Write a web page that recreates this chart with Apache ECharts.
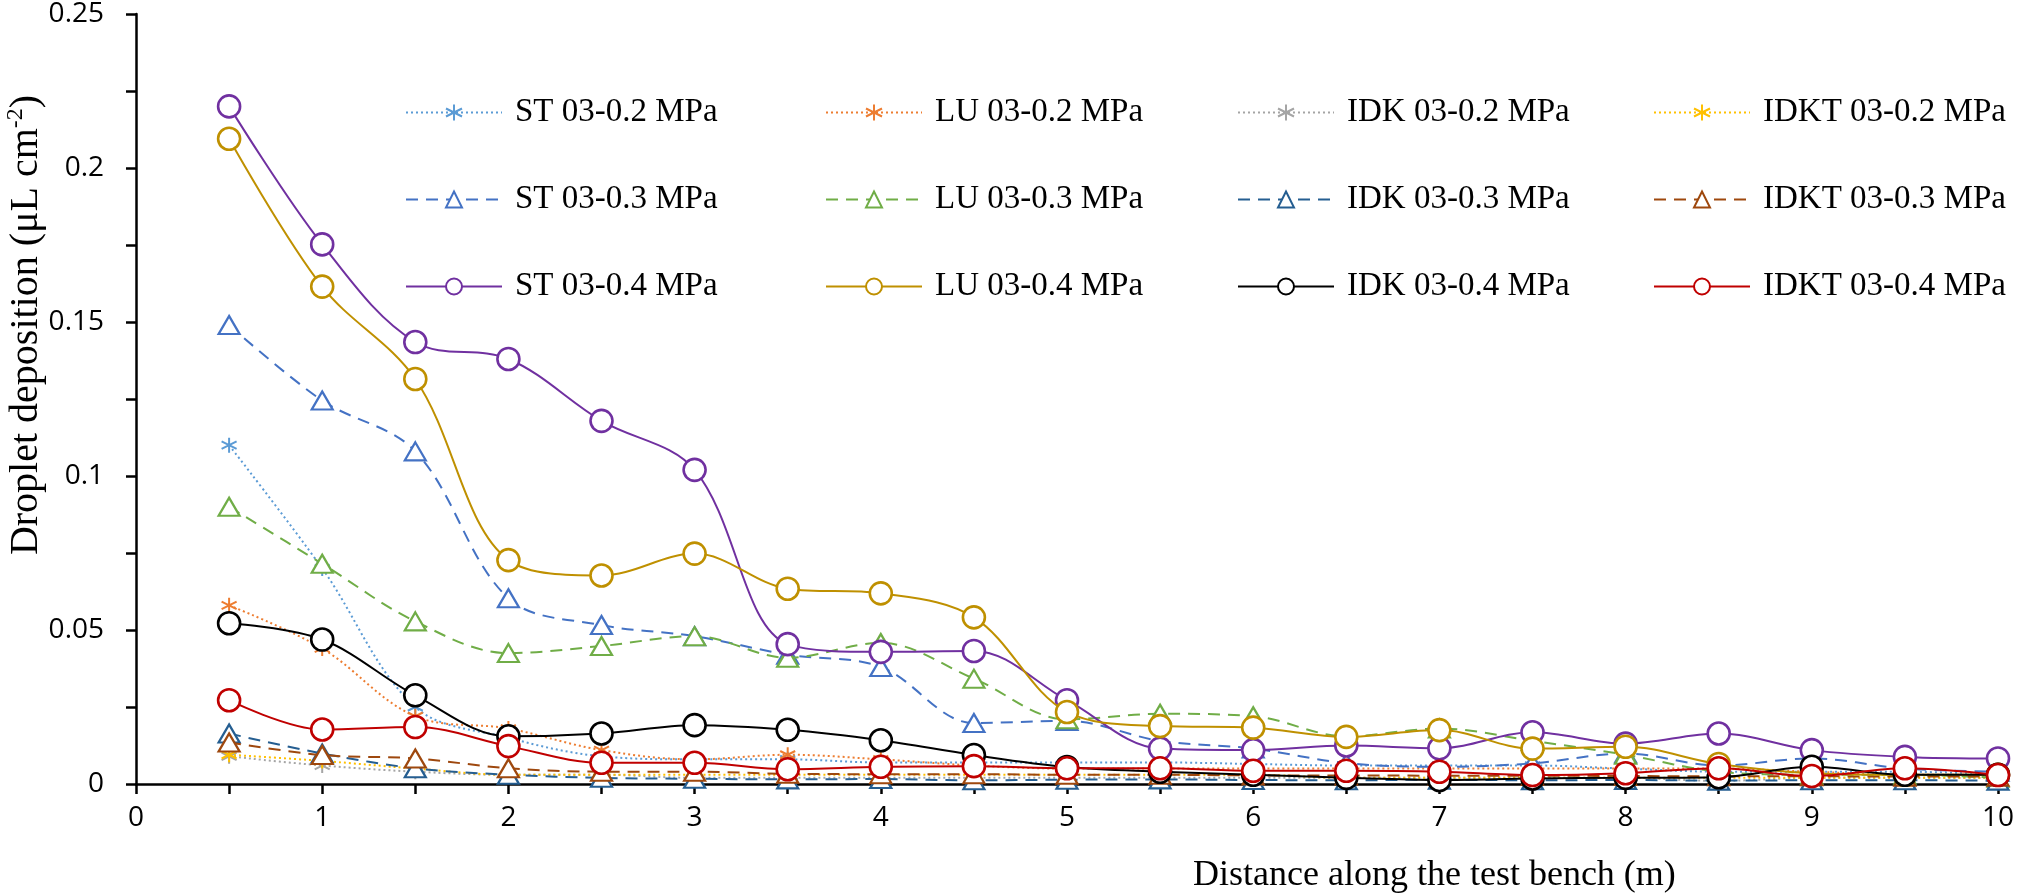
<!DOCTYPE html>
<html>
<head>
<meta charset="utf-8">
<script src="https://cdn.jsdelivr.net/npm/echarts@6/dist/echarts.min.js"></script>
<style>
html,body{margin:0;padding:0;background:#fff;}
#chart{width:2022px;height:895px;}
</style>
</head>
<body>
<div id="chart"></div>
<script>
// ---- data ----
const distances = [0.5,1,1.5,2,2.5,3,3.5,4,4.5,5,5.5,6,6.5,7,7.5,8,8.5,9,9.5,10];
const xTickLabels = ['0','1','2','3','4','5','6','7','8','9','10'];
const yTickLabels = ['0','0.05','0.1','0.15','0.2','0.25'];
const seriesNames = [
  'ST 03-0.2 MPa','LU 03-0.2 MPa','IDK 03-0.2 MPa','IDKT 03-0.2 MPa',
  'ST 03-0.3 MPa','LU 03-0.3 MPa','IDK 03-0.3 MPa','IDKT 03-0.3 MPa',
  'ST 03-0.4 MPa','LU 03-0.4 MPa','IDK 03-0.4 MPa','IDKT 03-0.4 MPa'
];
const st02  = [0.110,0.070,0.025,0.015,0.009,0.008,0.008,0.007,0.007,0.007,0.007,0.0065,0.006,0.006,0.006,0.005,0.004,0.004,0.004,0.003];
const lu02  = [0.058,0.044,0.022,0.018,0.011,0.008,0.0095,0.008,0.006,0.005,0.005,0.005,0.005,0.005,0.005,0.005,0.005,0.004,0.003,0.003];
const idk02 = [0.009,0.006,0.004,0.003,0.003,0.002,0.002,0.002,0.002,0.002,0.002,0.002,0.002,0.002,0.002,0.002,0.001,0.002,0.002,0.002];
const idkt02= [0.0095,0.0075,0.005,0.003,0.003,0.003,0.003,0.003,0.003,0.003,0.003,0.003,0.002,0.002,0.002,0.002,0.002,0.002,0.002,0.002];
const st03  = [0.149,0.1245,0.108,0.0603,0.0516,0.048,0.042,0.038,0.0198,0.0205,0.014,0.0115,0.0068,0.0056,0.0067,0.0099,0.006,0.0083,0.005,0.004];
const lu03  = [0.090,0.0715,0.0528,0.0425,0.0448,0.048,0.041,0.0458,0.0342,0.021,0.0228,0.022,0.0155,0.018,0.014,0.0095,0.004,0.003,0.003,0.002];
const idk03 = [0.0164,0.0099,0.0051,0.003,0.002,0.0017,0.0015,0.0016,0.0012,0.0014,0.0015,0.0013,0.0012,0.0014,0.0012,0.0013,0.0011,0.0012,0.0012,0.0011];
const idkt03= [0.0135,0.0094,0.0083,0.0051,0.004,0.004,0.0033,0.0032,0.0032,0.003,0.003,0.0028,0.0028,0.0027,0.0027,0.0026,0.0025,0.0025,0.0024,0.0024];
const st04  = [0.220,0.1752,0.1435,0.138,0.1179,0.102,0.0454,0.0429,0.0432,0.0272,0.0115,0.011,0.0125,0.0116,0.0168,0.0131,0.0164,0.011,0.0088,0.0083];
const lu04  = [0.2095,0.1615,0.1315,0.0727,0.0677,0.0748,0.0634,0.0619,0.0541,0.0234,0.0188,0.0183,0.0153,0.0175,0.0115,0.0121,0.0065,0.0035,0.003,0.003];
const idk04 = [0.0522,0.0469,0.0288,0.0155,0.0164,0.0191,0.0176,0.0142,0.0094,0.0055,0.004,0.003,0.002,0.0013,0.0018,0.002,0.0022,0.0056,0.003,0.003];
const idkt04= [0.0272,0.0177,0.0185,0.0123,0.0069,0.0069,0.0048,0.0056,0.0058,0.0051,0.0051,0.0043,0.0043,0.004,0.0029,0.0035,0.0051,0.0026,0.0051,0.0029];

const allValues = [st02,lu02,idk02,idkt02,st03,lu03,idk03,idkt03,st04,lu04,idk04,idkt04];
const colors = ['#5B9BD5','#ED7D31','#A5A5A5','#FFC000','#4472C4','#70AD47','#255E91','#9E480E','#7030A0','#BF9000','#000000','#C00000'];

// ---- styles ----
const asterisk = 'path://M0,-6L0,6M-5.2,-3L5.2,3M-5.2,3L5.2,-3';
const serif = '"Liberation Serif","Times New Roman",serif';
const sans = '"Open Sans","Liberation Sans",sans-serif';

function makeSeries(i){
  const group = Math.floor(i/4); // 0: 0.2MPa, 1: 0.3MPa, 2: 0.4MPa
  const c = colors[i];
  const s = {
    name: seriesNames[i],
    type: 'line',
    smooth: 0.35,
    data: distances.map((d,k)=>[d, allValues[i][k]]),
    z: 2 + i,
    emphasis: {disabled: true}
  };
  if (group === 0){
    s.symbol = asterisk; s.symbolSize = 15;
    s.itemStyle = {color: c, borderColor: c, borderWidth: 2};
    s.lineStyle = {color: c, width: 2, type: [2,3]};
  } else if (group === 1){
    s.symbol = 'triangle'; s.symbolSize = [21,18];
    s.itemStyle = {color: '#fff', borderColor: c, borderWidth: 2.2};
    s.lineStyle = {color: c, width: 2, type: [12,8]};
  } else {
    s.symbol = 'circle'; s.symbolSize = 22;
    s.itemStyle = {color: '#fff', borderColor: c, borderWidth: 2.6};
    s.lineStyle = {color: c, width: 2, type: 'solid'};
  }
  return s;
}

const legendLefts = [400, 820, 1232, 1648];
const legends = legendLefts.map((left, col) => ({
  orient: 'vertical',
  left: left,
  top: 91,
  itemWidth: 96,
  itemHeight: 20,
  itemGap: 54,
  selectedMode: false,
  textStyle: {fontFamily: serif, fontSize: 33, color: '#000', padding: [0,0,0,8]},
  data: [seriesNames[col], seriesNames[col+4], seriesNames[col+8]]
}));

const chart = echarts.init(document.getElementById('chart'), null, {renderer: 'canvas'});
chart.setOption({
  animation: false,
  backgroundColor: '#fff',
  grid: {left: 136, right: 24, top: 11.5, bottom: 111, containLabel: false},
  legend: legends,
  xAxis: {
    type: 'value', min: 0, max: 10, interval: 0.5,
    axisLine: {show: true, onZero: false, lineStyle: {color: '#000', width: 2.5}},
    axisTick: {show: true, inside: false, length: 10, lineStyle: {color: '#000', width: 2.5}},
    splitLine: {show: false},
    axisLabel: {
      margin: 20, color: '#000', fontFamily: sans, fontSize: 28,
      formatter: v => { const k = Math.round(v*2); return k % 2 === 0 ? xTickLabels[k/2] : ''; }
    }
  },
  yAxis: {
    type: 'value', min: 0, max: 0.25, interval: 0.025,
    axisLine: {show: true, lineStyle: {color: '#000', width: 2.5}},
    axisTick: {show: true, inside: false, length: 10, lineStyle: {color: '#000', width: 2.5}},
    splitLine: {show: false},
    axisLabel: {
      margin: 32, color: '#000', fontFamily: sans, fontSize: 28,
      formatter: v => { const k = Math.round(v/0.025); return k % 2 === 0 ? yTickLabels[k/2] : ''; }
    }
  },
  graphic: [{
    type: 'text', left: 1193, top: 858,
    style: {text: 'Distance along the test bench (m)', font: '36px ' + serif, fill: '#000'}
  }, {
    type: 'text', x: 26, y: 325, rotation: Math.PI / 2,
    style: {
      text: '{t|Droplet deposition (μL cm}{s|-2}{t|)}',
      align: 'center', verticalAlign: 'middle',
      rich: {
        t: {fontFamily: serif, fontSize: 40, fill: '#000', lineHeight: 44},
        s: {fontFamily: serif, fontSize: 24, fill: '#000', verticalAlign: 'top', lineHeight: 44}
      }
    }
  }],
  series: allValues.map((_, i) => makeSeries(i))
});
</script>
</body>
</html>
